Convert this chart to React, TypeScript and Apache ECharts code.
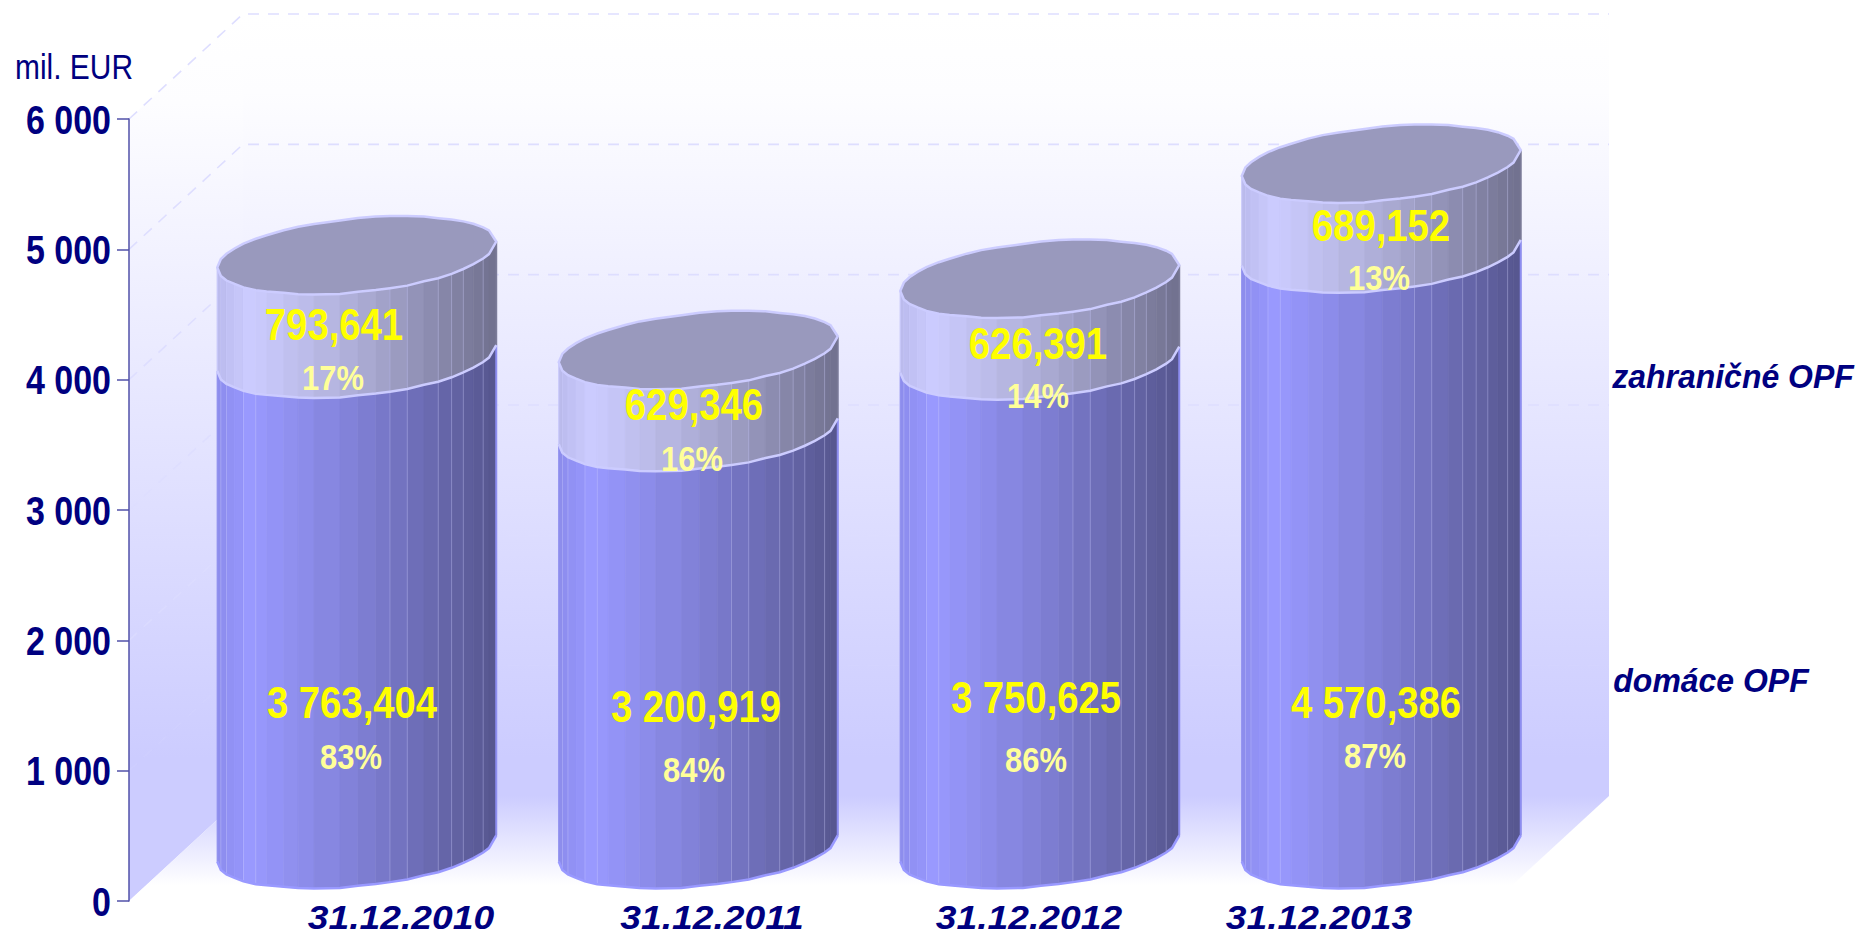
import React, { useEffect, useRef } from "react";
import * as echarts from "echarts";

const categories = ["31.12.2010", "31.12.2011", "31.12.2012", "31.12.2013"];
const domesticValues = [3763.404, 3200.919, 3750.625, 4570.386];
const foreignValues = [793.641, 629.346, 626.391, 689.152];
const domesticShares = ["83%", "84%", "86%", "87%"];
const foreignShares = ["17%", "16%", "14%", "13%"];
const yTicks = [0, 1000, 2000, 3000, 4000, 5000, 6000];
const unitLabel = "mil. EUR";
const legendForeign = "zahraničné OPF";
const legendDomestic = "domáce OPF";

// Layout only (pixels in the 1858x939 page)
const GRID = { left: 129, right: 363, top: 119, bottom: 38 };
const DEPTH_X = 114;
const DEPTH_Y = 105;
const RADIUS_X = 139.5;
const TILT = 13;
const RADIUS_Y = 37.3;
// facet boundaries across the cylinder (0 = left edge, 1 = right edge) and the small rim irregularities
const facetEdges = [0, 0.013, 0.033, 0.062, 0.094, 0.138, 0.177, 0.238, 0.29, 0.347, 0.44, 0.504, 0.568, 0.619, 0.681, 0.741, 0.792, 0.84, 0.882, 0.918, 0.953, 0.974, 1];
const frontWobble = [0, 0.3, 0.5, 0, 0.5, 0.5, 0, -0.3, 0.3, 0.5, 0.8, 0, 0.3, 0.5, 1, 0.3, 1, 0.8, 0.3, 0, 0, 0, 0];
const backWobble = [0, 0.2, 0.4, 0.5, 0.3, 0.5, 0.8, 0.6, 0.5, 1, 1.4, 0.8, 0.6, 0.8, 1, 1, 1.6, 1.2, 0.8, 0.5, 0.3, 0, 0];
const separators = [1, 2, 4, 5, 13, 14, 16, 17, 18, 20];
const gridOpacity = [0, 0.15, 0.6, 1, 1, 1, 1];
const categoryLabelX = [401, 712, 1029, 1319];
const domesticValuePos = [[352, 703], [696, 707], [1036, 698], [1376, 703]];
const domesticSharePos = [[351, 757], [694, 770], [1036, 760], [1375, 756]];
const foreignValuePos = [[334, 325], [694, 405], [1038, 344], [1381, 226]];
const foreignSharePos = [[333, 378], [692, 459], [1038, 396], [1379, 278]];

const FONT = "'Liberation Sans', Arial, sans-serif";
const NAVY = "#000080";

const lowerStops: [number, number[]][] = [
  [0, [140, 140, 236]],
  [0.12, [153, 153, 255]],
  [0.5, [128, 128, 214]],
  [1, [86, 86, 142]],
];
const upperStops: [number, number[]][] = [
  [0, [186, 186, 236]],
  [0.12, [204, 204, 255]],
  [0.5, [173, 173, 214]],
  [1, [112, 112, 142]],
];

function shade(stops: [number, number[]][], u: number) {
  for (let i = 1; i < stops.length; i++) {
    if (u <= stops[i][0]) {
      const [a, ca] = stops[i - 1];
      const [b, cb] = stops[i];
      const k = (u - a) / (b - a);
      const c = ca.map((v, j) => Math.round(v + (cb[j] - v) * k));
      return `rgb(${c[0]},${c[1]},${c[2]})`;
    }
  }
  const l = stops[stops.length - 1][1];
  return `rgb(${l[0]},${l[1]},${l[2]})`;
}

function rimPoint(cx: number, cy: number, i: number, side: 1 | -1): number[] {
  const u = facetEdges[i];
  const c = 2 * u - 1;
  const s = Math.sqrt(Math.max(0, 1 - c * c));
  const wobble = side === 1 ? frontWobble[i] : backWobble[i];
  return [cx + RADIUS_X * c, cy - TILT * c + side * RADIUS_Y * s + wobble];
}

function arc(cx: number, cy: number, side: 1 | -1): number[][] {
  return facetEdges.map((_, i) => rimPoint(cx, cy, i, side));
}

function cylinder(api: any, idx: number, from: number, to: number, upper: boolean) {
  const base = api.coord([idx, from]);
  const top = api.coord([idx, to]);
  const cx = base[0] + DEPTH_X / 2;
  const yBase = base[1] - DEPTH_Y / 2;
  const yTop = top[1] - DEPTH_Y / 2;
  const stops = upper ? upperStops : lowerStops;
  const bottomArc = arc(cx, yBase, 1);
  const topArc = arc(cx, yTop, 1);
  const children: any[] = [];
  for (let i = 0; i < facetEdges.length - 1; i++) {
    const u = (facetEdges[i] + facetEdges[i + 1]) / 2;
    const fill = shade(stops, u);
    children.push({
      type: "polygon",
      shape: { points: [bottomArc[i], bottomArc[i + 1], topArc[i + 1], topArc[i]] },
      style: { fill, stroke: fill, lineWidth: 0.6 },
    });
  }
  separators.forEach((i) => {
    children.push({
      type: "line",
      shape: { x1: bottomArc[i][0], y1: bottomArc[i][1], x2: topArc[i][0], y2: topArc[i][1] },
      style: { stroke: "rgba(204,204,255,0.35)", lineWidth: 1 },
    });
  });
  const left = cx - RADIUS_X;
  const right = cx + RADIUS_X;
  children.push({
    type: "line",
    shape: { x1: right, y1: yBase - TILT, x2: right, y2: yTop - TILT },
    style: { stroke: upper ? "rgba(120,120,150,0.9)" : "#8d8df0", lineWidth: 2 },
  });
  children.push({
    type: "line",
    shape: { x1: left, y1: yBase + TILT, x2: left, y2: yTop + TILT },
    style: { stroke: upper ? "rgba(204,204,255,0.8)" : "#9090f0", lineWidth: 1 },
  });
  if (upper) {
    children.push({
      type: "polyline",
      shape: { points: bottomArc },
      style: { stroke: "#ccccff", lineWidth: 2.5, fill: "none" },
    });
    const capFront = arc(cx, yTop, 1);
    const capBack = arc(cx, yTop, -1).reverse();
    children.push({
      type: "polygon",
      shape: { points: capFront.concat(capBack.slice(1, -1)) },
      style: { fill: "#9999bd", stroke: "#ccccff", lineWidth: 2.5 },
    });
  } else {
    children.push({
      type: "polyline",
      shape: { points: bottomArc },
      style: { stroke: "#9999ff", lineWidth: 2.5, fill: "none" },
    });
  }
  return { type: "group", children };
}

const groupThousands = (s: string) => s.replace(/\B(?=(\d{3})+$)/g, " ");

function formatValue(v: number) {
  const [a, b] = v.toFixed(3).split(".");
  return `${groupThousands(a)},${b}`;
}

function textEl(text: string, x: number, y: number, opts: any, scaleX = 1) {
  return {
    type: "text",
    x,
    y,
    scaleX,
    z: 100,
    silent: true,
    style: {
      text,
      fontFamily: FONT,
      align: "center",
      verticalAlign: "middle",
      ...opts,
    },
  };
}

export default function App() {
  const ref = useRef<HTMLDivElement>(null);
  useEffect(() => {
    document.body.style.margin = "0";
    const chart = echarts.init(ref.current!, null, { renderer: "svg" });
    const yellow = { fill: "#ffff00", fontWeight: "bold", fontSize: 44 };
    const pale = { fill: "#ffff99", fontWeight: "bold", fontSize: 36 };
    const catStyle = { fill: NAVY, fontWeight: "bold", fontStyle: "italic", fontSize: 34 };
    const legStyle = { fill: NAVY, fontWeight: "bold", fontStyle: "italic", fontSize: 34 };
    const graphics: any[] = [
      textEl(unitLabel, 74, 67, { fill: NAVY, fontSize: 35 }, 0.855),
      textEl(legendForeign, 1733, 376, legStyle, 0.94),
      textEl(legendDomestic, 1711, 680, legStyle, 0.94),
    ];
    categories.forEach((c, i) => {
      graphics.push(textEl(c, categoryLabelX[i], 918, catStyle, 1.095));
      graphics.push(textEl(formatValue(domesticValues[i]), domesticValuePos[i][0], domesticValuePos[i][1], yellow, 0.87));
      graphics.push(textEl(domesticShares[i], domesticSharePos[i][0], domesticSharePos[i][1], pale, 0.86));
      graphics.push(textEl(formatValue(foreignValues[i]), foreignValuePos[i][0], foreignValuePos[i][1], yellow, 0.87));
      graphics.push(textEl(foreignShares[i], foreignSharePos[i][0], foreignSharePos[i][1], pale, 0.86));
    });

    const renderWalls = (params: any, api: any) => {
      const cs = params.coordSys;
      const l = cs.x;
      const r = cs.x + cs.width;
      const y0 = api.coord([0, yTicks[0]])[1];
      const yMax = api.coord([0, yTicks[yTicks.length - 1]])[1];
      const vertical = (stops: [number, string][]) =>
        new echarts.graphic.LinearGradient(0, 0, 0, 1, stops.map(([offset, color]) => ({ offset, color })));
      return {
        type: "group",
        children: [
          {
            type: "polygon",
            shape: { points: [[l + DEPTH_X, yMax - DEPTH_Y], [r + DEPTH_X, yMax - DEPTH_Y], [r + DEPTH_X, y0 - DEPTH_Y], [l + DEPTH_X, y0 - DEPTH_Y]] },
            style: { fill: vertical([[0, "#ffffff"], [0.1, "#fdfdff"], [0.95, "#ccccff"], [1, "#ccccff"]]) },
          },
          {
            type: "polygon",
            shape: { points: [[l, yMax], [l + DEPTH_X, yMax - DEPTH_Y], [l + DEPTH_X, y0 - DEPTH_Y], [l, y0]] },
            style: { fill: vertical([[0, "#ffffff"], [0.1, "#fdfdff"], [0.84, "#ccccff"], [1, "#ccccff"]]) },
          },
          {
            type: "polygon",
            shape: { points: [[l + DEPTH_X, y0 - DEPTH_Y], [r + DEPTH_X, y0 - DEPTH_Y], [r, y0], [l, y0]] },
            style: { fill: vertical([[0, "#ccccff"], [0.85, "#ffffff"], [1, "#ffffff"]]) },
          },
        ],
      };
    };

    const renderGrid = (params: any, api: any) => {
      const cs = params.coordSys;
      const l = cs.x;
      const r = cs.x + cs.width;
      const idx = params.dataIndex;
      const y = api.coord([0, api.value(1)])[1];
      return {
        type: "polyline",
        shape: { points: [[l, y], [l + DEPTH_X, y - DEPTH_Y], [r + DEPTH_X, y - DEPTH_Y]] },
        style: { stroke: "#dedeff", opacity: gridOpacity[idx], lineWidth: 1.6, lineDash: [11, 9], fill: "none" },
      };
    };

    const renderYLabels = (params: any, api: any) => {
      const y = api.coord([0, api.value(1)])[1];
      return {
        type: "text",
        x: params.coordSys.x - 18,
        y: y + 0.5,
        scaleX: 0.85,
        style: {
          text: groupThousands(String(api.value(1))),
          fontFamily: FONT,
          fontWeight: "bold",
          fontSize: 40,
          fill: NAVY,
          align: "right",
          verticalAlign: "middle",
        },
      };
    };

    chart.setOption({
      animation: false,
      backgroundColor: "#ffffff",
      grid: { left: GRID.left, right: GRID.right, top: GRID.top, bottom: GRID.bottom },
      xAxis: {
        type: "category",
        data: categories,
        axisLine: { show: false },
        axisTick: { show: false },
        axisLabel: { show: false },
      },
      yAxis: {
        type: "value",
        min: 0,
        max: 6000,
        interval: 1000,
        z: 10,
        splitLine: { show: false },
        axisLine: { show: true, lineStyle: { color: "#5050a8", width: 1.5 } },
        axisTick: { show: true, length: 12, lineStyle: { color: "#5050a8", width: 1.5 } },
        axisLabel: { show: false },
      },
      graphic: graphics,
      series: [
        { type: "custom", silent: true, z: 1, renderItem: renderWalls, data: [[0, 0]], encode: { x: 0, y: 1 } },
        {
          type: "custom",
          silent: true,
          z: 2,
          renderItem: renderGrid,
          data: yTicks.map((t) => [0, t]),
          encode: { x: 0, y: 1 },
        },
        {
          type: "custom",
          silent: true,
          z: 12,
          renderItem: renderYLabels,
          data: yTicks.map((t) => [0, t]),
          encode: { x: 0, y: 1 },
        },
        {
          type: "custom",
          name: "domáce OPF",
          silent: true,
          z: 3,
          data: domesticValues.map((v, i) => [i, v]),
          encode: { x: 0, y: 1 },
          renderItem: (_p: any, api: any) => cylinder(api, api.value(0), 0, api.value(1), false),
        },
        {
          type: "custom",
          name: "zahraničné OPF",
          silent: true,
          z: 4,
          data: foreignValues.map((v, i) => [i, domesticValues[i], domesticValues[i] + v]),
          encode: { x: 0, y: 2 },
          renderItem: (_p: any, api: any) => cylinder(api, api.value(0), api.value(1), api.value(2), true),
        },
      ],
    });
    return () => chart.dispose();
  }, []);
  return <div ref={ref} style={{ position: "absolute", left: 0, top: 0, width: 1858, height: 939 }} />;
}
